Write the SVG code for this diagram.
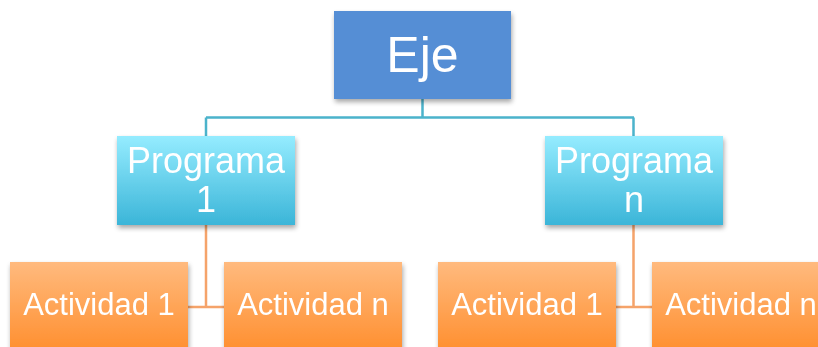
<svg xmlns="http://www.w3.org/2000/svg" width="818" height="347" viewBox="0 0 818 347">
<defs>
<linearGradient id="gBlue" x1="0" y1="0" x2="0" y2="1">
<stop offset="0" stop-color="#95ECFF"/>
<stop offset="1" stop-color="#3BB5D8"/>
</linearGradient>
<linearGradient id="gOrange" x1="0" y1="0" x2="0" y2="1">
<stop offset="0" stop-color="#FFBA7E"/>
<stop offset="1" stop-color="#FF8F2F"/>
</linearGradient>
<filter id="sh" x="-10%" y="-10%" width="125%" height="130%">
<feGaussianBlur in="SourceAlpha" stdDeviation="2.5"/>
<feOffset dx="1" dy="3" result="b"/>
<feComponentTransfer><feFuncA type="linear" slope="0.35"/></feComponentTransfer>
<feMerge><feMergeNode/><feMergeNode in="SourceGraphic"/></feMerge>
</filter>
</defs>
<style>
text{font-family:"Liberation Sans",Arial,sans-serif;fill:#ffffff;text-anchor:middle}
.t1{font-size:50px}
.t2{font-size:36px}
.t3{font-size:31px}
.c1{stroke:#4BB3CB;stroke-width:2.5;fill:none}
.c2{stroke:#F5A36A;stroke-width:2.5;fill:none}
</style>
<rect width="818" height="347" fill="#ffffff"/>
<g id="connectors">
<path class="c1" d="M422.5 99V117.5M206 117.5H634M206 117.5V136M633.5 117.5V136"/>
<path class="c2" d="M206 225V307M188 307H224"/>
<path class="c2" d="M633.5 225V307M616 307H652"/>
</g>
<g id="eje" filter="url(#sh)">
<rect x="334" y="11" width="177" height="88" fill="#558ED5"/>
<text class="t1" x="422.5" y="72">Eje</text>
</g>
<g id="programa1" filter="url(#sh)">
<rect x="117" y="136" width="178" height="89" fill="url(#gBlue)"/>
<text class="t2" x="206" y="173">Programa</text>
<text class="t2" x="206" y="212">1</text>
</g>
<g id="programan" filter="url(#sh)">
<rect x="545" y="136" width="178" height="89" fill="url(#gBlue)"/>
<text class="t2" x="634" y="173">Programa</text>
<text class="t2" x="634" y="212">n</text>
</g>
<g id="actividad1a" filter="url(#sh)">
<rect x="10" y="262" width="178" height="89" fill="url(#gOrange)"/>
<text class="t3" x="99" y="315">Actividad 1</text>
</g>
<g id="actividadna" filter="url(#sh)">
<rect x="224" y="262" width="178" height="89" fill="url(#gOrange)"/>
<text class="t3" x="313" y="315">Actividad n</text>
</g>
<g id="actividad1b" filter="url(#sh)">
<rect x="438" y="262" width="178" height="89" fill="url(#gOrange)"/>
<text class="t3" x="527" y="315">Actividad 1</text>
</g>
<g id="actividadnb" filter="url(#sh)">
<rect x="652" y="262" width="178" height="89" fill="url(#gOrange)"/>
<text class="t3" x="741" y="315">Actividad n</text>
</g>
</svg>
